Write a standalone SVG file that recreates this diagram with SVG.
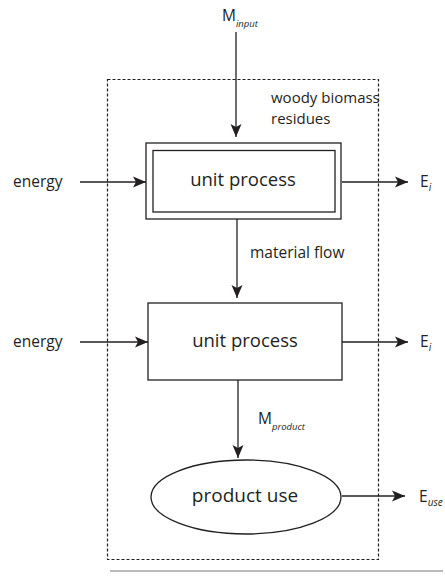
<svg xmlns="http://www.w3.org/2000/svg" width="445" height="576" viewBox="0 0 445 576">
<defs>
<marker id="ah" markerUnits="userSpaceOnUse" markerWidth="14" markerHeight="12" refX="13" refY="6" orient="auto">
<path d="M0,0.5 L13,6 L0,11.5 L3,6 z" fill="#231f20"/>
</marker>
</defs>
<style>
.t{font-family:"Open Sans","Liberation Sans",sans-serif;fill:#231f20}
.s{font-size:15.5px}
.b{font-size:18.5px}
.sub{font-style:italic}
.ln{stroke:#231f20;stroke-width:1.3;fill:none}
.bx{stroke:#231f20;stroke-width:1.3;fill:#fff}
</style>
<rect width="445" height="576" fill="#fff"/>
<g id="boundary">
<rect x="107.5" y="79.5" width="271" height="480" fill="none" stroke="#231f20" stroke-width="1.2" stroke-dasharray="3,2"/>
</g>
<line x1="110" y1="571" x2="443" y2="571" stroke="#777" stroke-width="1"/>
<g id="connectors">
<line class="ln" x1="236" y1="32" x2="236" y2="137" marker-end="url(#ah)"/>
<line class="ln" x1="80" y1="182" x2="146" y2="182" marker-end="url(#ah)"/>
<line class="ln" x1="342" y1="182" x2="408" y2="182" marker-end="url(#ah)"/>
<line class="ln" x1="237" y1="219" x2="237" y2="298" marker-end="url(#ah)"/>
<line class="ln" x1="80" y1="342" x2="148" y2="342" marker-end="url(#ah)"/>
<line class="ln" x1="342" y1="342" x2="408" y2="342" marker-end="url(#ah)"/>
<line class="ln" x1="238" y1="380" x2="238" y2="458" marker-end="url(#ah)"/>
<line class="ln" x1="342" y1="496" x2="405" y2="496" marker-end="url(#ah)"/>
</g>
<g id="m-input">
<text class="t" x="222" y="21" font-size="15.5">M<tspan class="sub" font-size="9.5" dy="6">input</tspan></text>
</g>
<g id="woody">
<text class="t" x="271" y="103" font-size="15">woody biomass</text>
<text class="t" x="271" y="123.5" font-size="15">residues</text>
</g>
<g id="energy1"><text class="t s" x="13" y="187">energy</text></g>
<g id="unit1">
<rect class="bx" x="146" y="143" width="195" height="76"/>
<rect class="bx" x="153" y="150.5" width="182" height="61.5"/>
<text class="t b" x="243" y="186" text-anchor="middle">unit process</text>
</g>
<g id="ei1"><text class="t" x="420" y="187" font-size="15.5">E<tspan class="sub" font-size="10" dy="4">i</tspan></text></g>
<g id="matflow"><text class="t s" x="250" y="258">material flow</text></g>
<g id="energy2"><text class="t s" x="13" y="347">energy</text></g>
<g id="unit2">
<rect class="bx" x="148" y="303" width="194" height="77"/>
<text class="t b" x="245" y="347" text-anchor="middle">unit process</text>
</g>
<g id="ei2"><text class="t" x="420" y="347" font-size="15.5">E<tspan class="sub" font-size="10" dy="4">i</tspan></text></g>
<g id="m-product"><text class="t" x="258" y="424" font-size="15.5">M<tspan class="sub" font-size="9.5" dy="6">product</tspan></text></g>
<g id="product-use">
<ellipse class="bx" cx="246" cy="497" rx="95" ry="37"/>
<text class="t" x="245" y="502" font-size="19" text-anchor="middle">product use</text>
</g>
<g id="euse"><text class="t" x="419" y="502" font-size="15.5">E<tspan class="sub" font-size="10" dy="4">use</tspan></text></g>
</svg>
